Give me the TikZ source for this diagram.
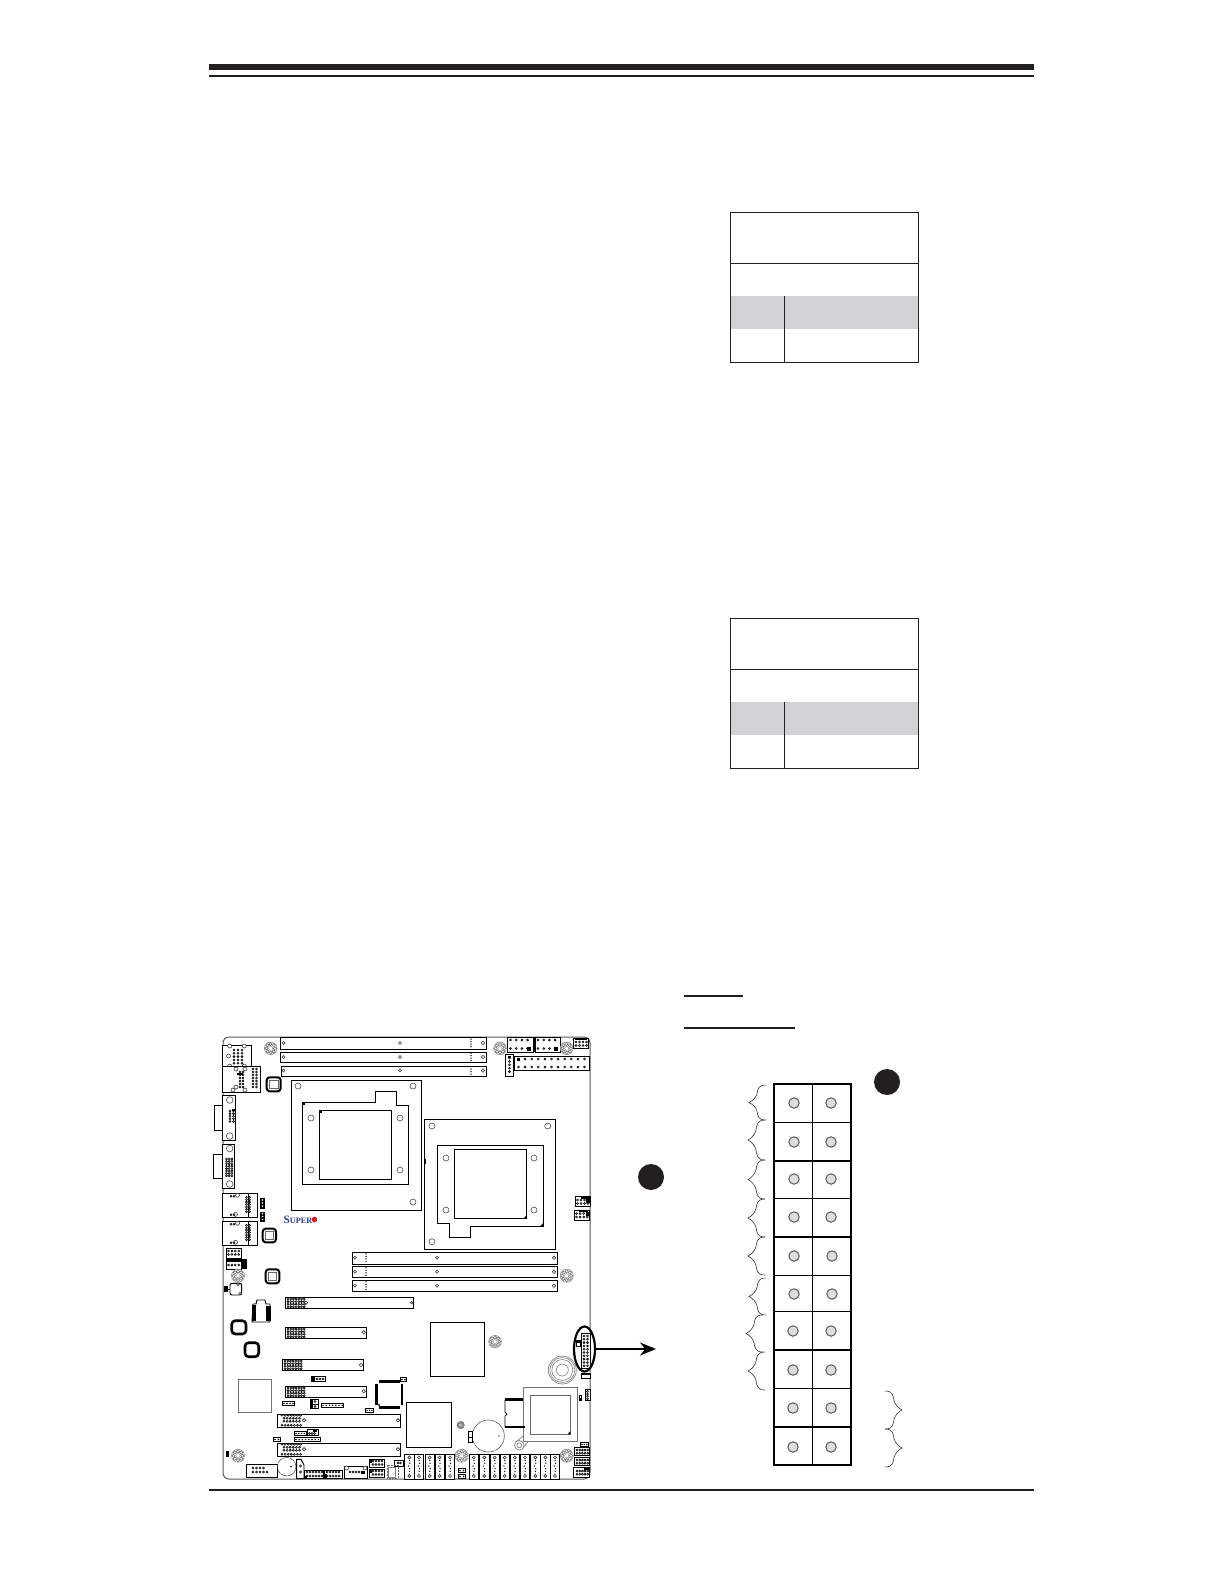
\documentclass[tikz,border=0pt]{standalone}
\usepackage{fontspec}
\setmainfont{Liberation Serif}
\usetikzlibrary{arrows.meta,shapes.geometric,calc}
\definecolor{barblack}{HTML}{231F20}
\definecolor{headgrey}{HTML}{D1D2D3}
\definecolor{pingrey}{HTML}{DDDDDD}
\definecolor{superblue}{HTML}{2A3A8C}
\definecolor{superred}{HTML}{D8202A}
\tikzset{
  tbl/.style={draw=barblack,line width=0.42pt},
  part/.style={draw=black,line width=0.48pt,fill=white},
  thin part/.style={draw=black,line width=0.38pt,fill=white},
  heavy part/.style={draw=black,line width=0.75pt,fill=white},
  hole/.style={draw=black!80,line width=0.3pt,fill=white},
  bighole/.style={draw=black!70,line width=0.3pt,fill=white},
  pindot/.style={draw=black,line width=0.28pt,fill=white},
  pad/.style={draw=black!65,line width=0.5pt,fill=pingrey},
  gridline/.style={draw=black,line width=0.5pt},
  gridthick/.style={draw=black,line width=1.0pt},
  curly/.style={draw=black!80,line width=0.3pt},
}
% pins: x0 y0 nx ny dx dy
\newcommand{\pinarr}[6]{\foreach \ii in {1,...,#3}{\foreach \jj in {1,...,#4}{\draw[pindot] ({#1+(\ii-1)*#5},{#2+(\jj-1)*#6}) circle[radius=1.0];}}}
\newcommand{\blockpins}[6]{\foreach \ii in {1,...,#3}{\foreach \jj in {1,...,#4}{\fill[black] ({#1+(\ii-1)*#5},{#2+(\jj-1)*#6}) circle[radius=0.8];}}}
\newcommand{\standoff}[3]{\draw[draw=black!45,line width=0.3pt,fill=white] (#1,#2) circle[radius=#3];\foreach \aa in {0,45,...,315}{\draw[draw=black!60,line width=0.25pt,fill=white] ($(#1,#2)+(\aa:{#3*0.68})$) circle[radius={#3*0.25}];}\draw[draw=black!45,line width=0.2pt] (#1,#2) circle[radius={#3*0.32}];}
\newcommand{\chipsq}[4]{\draw[black,line width=1.0pt,rounded corners=1.5pt,fill=white] (#1,#2) rectangle (#3,#4);\draw[black!60,line width=0.35pt] ({#1+2.7},{#2+2.7}) rectangle ({#3-2.7},{#4-2.7});}
\newcommand{\chipplain}[4]{\draw[black,line width=1.3pt,rounded corners=1.8pt,fill=white] (#1,#2) rectangle (#3,#4);}
\newcommand{\leftcurly}[3]{% top bottom tip
  \pgfmathsetmacro{\mm}{(#1+#2)/2}\pgfmathsetmacro{\qa}{(#1+\mm)/2}\pgfmathsetmacro{\qb}{(#2+\mm)/2}\pgfmathsetmacro{\xx}{#3+8}
  \draw[curly] (#3+17,#1) .. controls (\xx+1,#1) and (\xx+1,\qa-5) .. (\xx,\qa) .. controls (\xx-1,\qa+4) and (#3+4,\mm-2) .. (#3,\mm) .. controls (#3+4,\mm+2) and (\xx-1,\qb-4) .. (\xx,\qb) .. controls (\xx+1,\qb+5) and (\xx+1,#2) .. (#3+17,#2);}
\newcommand{\rightcurly}[3]{%
  \pgfmathsetmacro{\mm}{(#1+#2)/2}\pgfmathsetmacro{\qa}{(#1+\mm)/2}\pgfmathsetmacro{\qb}{(#2+\mm)/2}\pgfmathsetmacro{\xx}{#3-8}
  \draw[curly] (#3-17,#1) .. controls (\xx-1,#1) and (\xx-1,\qa-5) .. (\xx,\qa) .. controls (\xx+1,\qa+4) and (#3-4,\mm-2) .. (#3,\mm) .. controls (#3-4,\mm+2) and (\xx+1,\qb-4) .. (\xx,\qb) .. controls (\xx-1,\qb+5) and (\xx-1,#2) .. (#3-17,#2);}
\newcommand{\satabox}[2]{\draw[part] (#1,1454.3) rectangle (#2,1479);
  \pgfmathsetmacro{\cc}{(#1+#2)/2}
  \draw[hole] (\cc,1457.5) circle[radius=1.5];\draw[hole] (\cc,1476) circle[radius=1.5];
  \draw[black,line width=0.5pt,densely dotted] (\cc,1460) .. controls (\cc+3,1463) and (\cc-3,1466) .. (\cc,1468) .. controls (\cc+3,1470) and (\cc-2,1472) .. (\cc,1474);}
\begin{document}
\begin{tikzpicture}[x=0.5pt,y=-0.5pt]
\useasboundingbox (0,0) rectangle (1224,1584);
\fill[white] (0,0) rectangle (1224,1584);
% page rules
\fill[barblack] (209,64) rectangle (1034,70);
\fill[barblack] (209,75) rectangle (1034,77);
\fill[barblack] (209,1488.5) rectangle (1034,1491);
% tables
\foreach \dy in {0,406}{
  \fill[headgrey] (730,296+\dy) rectangle (918,329+\dy);
  \draw[tbl] (730,212+\dy) rectangle (918,362+\dy);
  \draw[tbl] (730,263+\dy) -- (918,263+\dy);
  \draw[tbl] (784,296+\dy) -- (784,362+\dy);
}
% underlines
\draw[barblack,line width=0.9pt] (684,996) -- (743,996);
\draw[barblack,line width=0.9pt] (684,1028) -- (795,1028);
% callouts
\fill[barblack] (887,1082) circle[radius=13];
\fill[barblack] (651,1177) circle[radius=13];
% pin header
\foreach \y in {1122,1198.6,1275,1311,1388}{\draw[gridline] (774,\y) -- (851,\y);}
\foreach \y in {1161,1237,1350,1427}{\draw[gridthick] (774,\y) -- (851,\y);}
\draw[gridline] (812,1084) -- (812,1465);
\draw[gridthick] (774,1084) rectangle (851,1465);
\foreach \y/\xa/\xb in {1103/794/831,1142/794/831,1179/794/831,1217/794/831,1256/794/832,1294/794/832,1331/793/831,1370/793/831,1408/793/831,1447/793/831}{
  \draw[pad] (\xa,\y) circle[radius=5.2];
  \draw[pad] (\xb,\y) circle[radius=5.2];
}
\leftcurly{1085}{1120}{749}
\leftcurly{1120}{1160}{748}
\leftcurly{1160}{1199}{748}
\leftcurly{1199}{1237}{748}
\leftcurly{1237}{1275}{748}
\leftcurly{1278}{1315}{749}
\leftcurly{1315}{1352}{746}
\leftcurly{1352}{1390}{748}
\rightcurly{1391}{1429}{902}
\rightcurly{1429}{1467}{902}
% board outline
\draw[black!65,line width=0.5pt,rounded corners=3pt] (223,1037) -- (590,1037) -- (590,1479) -- (223,1479) -- cycle;
% top DIMMs
\draw[part] (280,1037.5) rectangle (486,1049);
\draw[part] (280,1052) rectangle (486,1062);
\draw[part] (281,1066) rectangle (486,1076);
\foreach \y in {1043,1057,1070.5}{
  \draw[hole] (283.5,\y) circle[radius=1.5];
  \draw[hole] (400,\y) circle[radius=1.5];
  \draw[hole] (483,\y) circle[radius=1.7];
  \foreach \d in {-4,-1.5,1,3.5}{\fill[black] (471,\y+\d) circle[radius=0.75];}
}
% CPU socket 1
\draw[part] (291,1080) rectangle (421,1210);
\draw[part] (302.3,1102) -- (375.7,1102) -- (375.7,1091.3) -- (396.3,1091.3) -- (396.3,1105) -- (408.3,1105) -- (408.3,1184) -- (302.3,1184) -- cycle;
\draw[part] (319.3,1110.3) rectangle (391.7,1179.3);
\foreach \x/\y in {298/1086,413/1086,413/1202,311/1118,311/1170,400/1118,400/1170}{\draw[bighole] (\x,\y) circle[radius=3];}
\fill[black] (302,1102) rectangle (305,1104.5);
\fill[black] (319,1110) rectangle (322,1112.5);
% CPU socket 2
\draw[part] (424.3,1119.3) rectangle (555.7,1249.3);
\draw[part] (437.3,1145.3) -- (543.7,1145.3) -- (543.7,1226.3) -- (470.7,1226.3) -- (470.7,1237.3) -- (449.3,1237.3) -- (449.3,1223.7) -- (437.3,1223.7) -- cycle;
\draw[part] (454.3,1149.3) rectangle (526.7,1218.7);
\foreach \x/\y in {432/1126,547.7/1126,432/1241.7,446/1158,534/1158,446/1210,534/1210}{\draw[bighole] (\x,\y) circle[radius=3];}
\fill[black] (523.5,1218.7) -- (526.7,1218.7) -- (526.7,1215) -- cycle;
\fill[black] (540,1226.3) -- (543.7,1226.3) -- (543.7,1222.5) -- cycle;
\fill[black] (424.5,1159) rectangle (426,1163.5);
% top-right connectors
\draw[part] (507.3,1037.3) rectangle (533.3,1052);
\draw[part] (535,1037.3) rectangle (560.3,1052);
\draw[black,line width=0.8pt] (534.3,1037.3) -- (534.3,1052);
\pinarr{510.5}{1040}{4}{2}{5.7}{8.5}
\pinarr{538}{1040}{4}{2}{5.7}{8.5}
\fill[black] (527,1047) rectangle (530.5,1050.5);
\fill[black] (554,1047) rectangle (557.5,1050.5);
\draw[part] (514.7,1056.7) rectangle (589.7,1070.3);
\pinarr{518.5}{1059}{11}{2}{6.6}{8}
\fill[black] (516.5,1057.5) rectangle (519.5,1061);
\draw[part] (505.7,1054.3) rectangle (513.3,1076.3);
\pinarr{509.5}{1058}{1}{5}{0}{3.4}
\fill[black] (508,1055.5) rectangle (511,1058);
\standoff{500}{1048.3}{6.3}
\standoff{566.7}{1048.3}{6.3}
\standoff{270.7}{1048.3}{6.3}
\draw[thin part] (573.7,1038) rectangle (588.3,1048.3);
\pinarr{576}{1042}{4}{2}{3.5}{3.5}
\fill[black] (575,1038.5) rectangle (587,1040);
\draw[thin part] (575.3,1196.7) rectangle (590,1206);
\pinarr{577.5}{1200}{4}{2}{3.5}{3.5}
\fill[black] (581,1197) rectangle (589.5,1199);
\fill[black] (586,1199) rectangle (589.5,1203);
\draw[thin part] (574.3,1210) rectangle (589.7,1220.3);
\pinarr{576.5}{1213.5}{4}{2}{3.6}{3.5}
\fill[black] (579,1210.5) rectangle (588,1212);
\fill[black] (586,1212) rectangle (589,1216);
% left I/O
\draw[part] (222.7,1045.3) rectangle (251.7,1066.7);
\draw[heavy part] (222.7,1045.3) -- (222.7,1066.7);
\pinarr{234}{1050}{3}{5}{4}{3.3}
\foreach \x/\y in {229.7/1046,244.3/1046,228.5/1056,229.7/1066,244.3/1066}{\draw[hole] (\x,\y) circle[radius=2];}
\draw[part] (222.7,1066.7) rectangle (260.7,1092.3);
\draw[heavy part] (222.7,1066.7) -- (222.7,1092.3);
\pinarr{240}{1072}{2}{6}{3}{3}
\pinarr{253}{1069}{2}{7}{3.5}{3}
\foreach \x/\y in {236/1069,245/1069,236/1087,245/1090,233/1090}{\draw[hole] (\x,\y) circle[radius=2];}
\fill[black] (237,1073) rectangle (243,1075);
\chipsq{266.7}{1077.3}{280.7}{1091.3}
\draw[part] (214.3,1105.3) rectangle (223,1130.3);
\draw[part] (222.7,1095.7) rectangle (235.3,1140.3);
\draw[heavy part] (222.7,1095.7) -- (222.7,1140.3);
\draw[bighole] (229.7,1100) circle[radius=3.3];
\draw[bighole] (229.7,1136) circle[radius=3.3];
\pinarr{230}{1111}{2}{5}{3.5}{2.6}
\fill[black] (232,1108.5) rectangle (235,1111);
\draw[part] (213.3,1154.7) rectangle (223,1178.7);
\draw[part] (222.7,1144.3) rectangle (234.3,1188.3);
\draw[heavy part] (222.7,1144.3) -- (222.7,1188.3);
\draw[bighole] (229.7,1148.5) circle[radius=3.3];
\draw[bighole] (229.7,1184) circle[radius=3.3];
\pinarr{226.5}{1159}{3}{8}{2.7}{2.4}
\foreach \y in {1193.3,1221.3}{
  \draw[part] (222.7,\y) rectangle (257.7,\y+24);
  \draw[heavy part] (222.7,\y) -- (222.7,\y+24);
  \draw[thin part] (248.5,\y) -- (248.5,\y+24);
  \pinarr{249.5}{\y+4}{2}{7}{-3}{2.4}
  \foreach \x/\dd in {237.5/2,235.5/21}{\draw[hole] (\x,\y+\dd) circle[radius=2];}
  \pinarr{231}{\y+3}{2}{1}{3}{0}
  \pinarr{231}{\y+21.5}{2}{1}{3}{0}
}
\fill[black] (260.3,1198.3) rectangle (264.7,1208.7);
\fill[black] (260.3,1211.7) rectangle (264.7,1222);
\foreach \y in {1200,1203,1206,1213.5,1216.5,1219.5}{\fill[white] (262.5,\y) circle[radius=0.8];}
\chipsq{262.7}{1228.7}{276}{1242.3}
\node (superlogo) [inner sep=0pt,text=superblue,font=\bfseries\fontsize{5.6pt}{7pt}\selectfont,anchor=west] at (283.3,1219.5) {S\fontsize{4.1pt}{7pt}\selectfont UPER};
\fill[superred] (314.5,1219.5) circle[radius=2.8];
% lower-left connectors
\draw[part] (226.3,1248.3) rectangle (241.7,1258.3);
\pinarr{228.5}{1251}{4}{2}{3.4}{3.4}
\draw[part] (226.3,1259.3) rectangle (241.7,1269.3);
\pinarr{228.5}{1265}{4}{1}{3.4}{0}
\fill[black] (226.5,1259.5) rectangle (241.5,1262);
\fill[black] (242.3,1259.3) rectangle (246.7,1269.3);
\standoff{238}{1275.7}{6.5}
\draw[part,rounded corners=1pt] (230,1283.3) rectangle (241.7,1295);
\fill[black] (224,1286) rectangle (228.3,1291.7);
\draw[black,line width=0.3pt] (228.3,1289) -- (230,1289);
\draw[hole] (238,1284.5) circle[radius=1.2];\draw[hole] (240,1293.5) circle[radius=1.2];
\chipsq{265.7}{1269.3}{279.3}{1283.3}
\draw[part] (253,1304) -- (256,1304) -- (257,1300) -- (265,1300) -- (266,1304) -- (270,1304) -- (270,1322) -- (252,1322) -- cycle;
\fill[black] (251.5,1304.5) rectangle (256,1321);
\fill[black] (266,1305.5) rectangle (270.5,1320.5);
\chipplain{231.7}{1320.7}{246}{1334}
\chipplain{245}{1342.7}{258.7}{1356.7}
% PCI slots
\draw[part] (285.3,1297.3) rectangle (413.3,1308.3);
\pinarr{288}{1299}{7}{4}{2.7}{2.6}
\draw[hole] (306,1302.7) circle[radius=1.7];\draw[hole] (411.7,1302.7) circle[radius=1.3];
\draw[part] (285.3,1327.3) rectangle (366.3,1338.3);
\pinarr{288}{1329}{7}{4}{2.7}{2.6}
\draw[hole] (363.7,1332.3) circle[radius=1.7];
\draw[part] (282.3,1359.3) rectangle (363.3,1370.3);
\pinarr{285}{1361}{7}{4}{2.7}{2.6}
\draw[hole] (361,1365) circle[radius=1.7];
\draw[part] (285.3,1386.3) rectangle (366.3,1397.3);
\pinarr{288}{1388}{7}{4}{2.7}{2.6}
\draw[hole] (363.7,1391.3) circle[radius=1.7];
\foreach \y in {1414.3,1443.3}{
  \draw[part] (277.3,\y) rectangle (400.7,\y+13);
  \pinarr{282}{\y+1}{7}{1}{3.1}{0}
  \pinarr{284}{\y+4}{6}{2}{3.1}{3}
  \pinarr{282}{\y+11}{7}{1}{3.1}{0}
  \draw[hole] (304,\y+6) circle[radius=1.7];
  \draw[hole] (398,\y+6) circle[radius=1.7];
}
% DIMMs lower
\foreach \y/\h in {1252.3/12,1266.3/11,1280.3/11}{
  \draw[part] (352.3,\y) rectangle (557.3,\y+\h);
  \draw[hole] (355,\y+5.5) circle[radius=1.5];
  \draw[hole] (437,\y+5.5) circle[radius=1.5];
  \draw[hole] (554,\y+5.5) circle[radius=1.7];
  \foreach \d in {-4,-1.5,1,3.5}{\fill[black] (366,\y+5.5+\d) circle[radius=0.75];}
}
\standoff{566.7}{1275.7}{6.5}
% chips
\draw[draw=black!55,line width=0.3pt,fill=white] (238.3,1379.3) rectangle (271.7,1412.7);
\draw[part] (430.3,1322.3) rectangle (484.3,1376.7);
\standoff{495}{1341.7}{6.3}
\draw[part] (406.3,1402.3) rectangle (451.7,1447.3);
\standoff{460.7}{1425}{3.7}
% small connectors
\draw[thin part] (311.3,1376.3) rectangle (325.7,1381.7);
\fill[black] (311.3,1376.3) rectangle (315,1381.7);
\pinarr{317}{1379}{3}{1}{3}{0}
\draw[thin part] (282.3,1401.7) rectangle (294.7,1405.3);
\blockpins{284}{1403.5}{4}{1}{3}{0}
\draw[thin part] (310.3,1399.3) rectangle (318.7,1408.7);
\fill[black] (310.3,1399.3) rectangle (313,1408.7);
\fill[black] (310.3,1403.7) rectangle (318.7,1404.7);
\pinarr{315}{1401.5}{1}{2}{0}{5}
\draw[thin part] (321.3,1403.3) rectangle (343.7,1407.3);
\blockpins{323}{1405.3}{7}{1}{3.2}{0}
\draw[thin part] (365.3,1408.3) rectangle (373.7,1412.3);
\blockpins{367}{1410.3}{3}{1}{2.5}{0}
% QFP
\draw[black,line width=1.2pt] (379,1381.5) -- (399.5,1381.5) (379,1407.5) -- (399.5,1407.5) (376.5,1384) -- (376.5,1405) (402,1384) -- (402,1405);
\draw[hole] (379,1405) circle[radius=1];
\draw[thin part] (294.3,1431.7) rectangle (306,1435.3);
\blockpins{296}{1433.5}{4}{1}{2.8}{0}
\draw[thin part] (307.3,1429.3) rectangle (318.7,1435.3);
\pinarr{309.5}{1433.5}{3}{1}{2.5}{0}
\fill[black] (313,1429.5) rectangle (317,1431.5);
\draw[thin part] (294.3,1437.3) rectangle (320.7,1441.7);
\blockpins{296}{1439.5}{8}{1}{3.2}{0}
\draw[thin part] (273.3,1437.3) rectangle (280.7,1441.7);
\blockpins{275}{1439.5}{2}{1}{3.5}{0}
\fill[black] (225.7,1451.3) rectangle (229,1457.3);
\standoff{238}{1455.7}{6.5}
\draw[part] (246.3,1464.7) rectangle (277,1477.7);
\pinarr{253}{1468}{4}{1}{3.5}{0}
\pinarr{253}{1472}{5}{1}{3.5}{0}
% battery left
\draw[black!70,line width=0.3pt,dash pattern=on 1.5pt off 0.3pt] (286.7,1466.7) circle[radius=9.3];
\fill[black] (291,1466.7) circle[radius=0.9];
\draw[part] (296.7,1459.3) -- (301,1459.3) -- (304,1465) -- (304,1478.7) -- (296.7,1478.7) -- cycle;
\draw[hole] (300.5,1466) circle[radius=1.1];\draw[hole] (300.5,1472) circle[radius=1.1];
\fill[black] (304,1473) rectangle (306,1476);
\draw[part] (304.3,1470) rectangle (323.3,1478.7);
\pinarr{307}{1472}{6}{2}{3}{4}
\fill[black] (304.3,1476) rectangle (307,1478.7);
\draw[part] (324,1470) rectangle (342.7,1478.7);
\pinarr{327}{1472}{5}{2}{3}{4}
\fill[black] (324,1474) rectangle (326.5,1478);
\draw[part] (344.3,1466.7) rectangle (367.7,1478.7);
\draw[hole] (346.5,1468) circle[radius=2];\draw[hole] (365,1468) circle[radius=2];
\pinarr{350}{1472}{5}{1}{3}{0}
\fill[black] (361,1471) rectangle (365,1474);
\draw[part] (369,1459.3) rectangle (384.3,1467.3);
\pinarr{373}{1461}{4}{2}{3}{3.5}
\fill[black] (369,1459.3) rectangle (372,1463);
\draw[part] (369,1469.3) rectangle (384.3,1477.3);
\pinarr{373}{1471}{4}{2}{3}{3.5}
\fill[black] (369,1469.3) rectangle (372,1473);
\draw[part] (394.3,1460.7) rectangle (403.5,1466.7);
\pinarr{398}{1463}{2}{1}{2.5}{0}
\draw[black!60,line width=0.3pt,dash pattern=on 1pt off 0.5pt] (387,1465) rectangle (398,1478);
\draw[black!50,line width=0.3pt,fill=white] (388.5,1467) rectangle (395.5,1477);
% slot ends near x=400
\draw[part] (400,1377.7) rectangle (406.7,1381.3);
\blockpins{402}{1379.5}{2}{1}{3}{0}
% battery right
\draw[black!70,line width=0.3pt,dash pattern=on 2pt off 0.3pt] (488.3,1436) circle[radius=16];
\fill[black!60] (499,1436) circle[radius=0.8];
\draw[part] (468.5,1431.7) rectangle (472.7,1442.3);
\draw[black,line width=0.3pt] (468.5,1437) -- (472.7,1437);
% heatsink
\draw[black!55,line width=0.3pt] (515.5,1442) -- (523.3,1436) (522,1449) -- (528,1441.7);
\draw[black!55,line width=0.3pt,fill=white] (519.3,1445.3) circle[radius=4.8];
\draw[black!55,line width=0.3pt] (519.3,1445.3) circle[radius=2.5];
\draw[draw=black!55,line width=0.3pt] (523.3,1387.7) rectangle (577.3,1441.7);
\draw[black!60,line width=0.35pt] (530.3,1395) rectangle (570.3,1434.3);
\fill[black] (567.5,1434.3) -- (570.3,1434.3) -- (570.3,1431.3) -- cycle;
\draw[black,line width=0.35pt] (505,1399.7) -- (505,1412) -- (507,1414) -- (505,1416) -- (505,1427);
\draw[black,line width=1.3pt] (505,1399.7) -- (522.7,1399.7);
\draw[black,line width=1.3pt] (505,1427) -- (525,1427);
% bearing circle
\draw[black!50,line width=0.35pt,fill=white] (562.3,1370) circle[radius=14];
\draw[black!50,line width=0.3pt] (562.3,1370) circle[radius=12.5];
\draw[black!50,line width=0.3pt] (562.3,1370) circle[radius=10.5];
\draw[black!50,line width=0.3pt,fill=white] (562.3,1370) circle[radius=6];
% front header + small
\draw[part] (581.7,1333.3) rectangle (590,1368.3);
\pinarr{584}{1336}{2}{10}{3.5}{3.3}
\draw[thin part] (576.7,1340) rectangle (580,1346.7);
\fill[black] (577,1340) rectangle (580,1343);
\draw[thin part] (581.7,1373.3) rectangle (590,1378.3);
\fill[black] (581.7,1373.3) rectangle (590,1375);
\draw[thin part] (585,1389.3) rectangle (590,1400);
\pinarr{587.5}{1391.5}{1}{4}{0}{2.4}
\draw[thin part] (579,1395) rectangle (581.7,1400.7);
\fill[black] (579,1398) rectangle (581.7,1400.7);
% SATA row
\foreach \a/\b in {404.7/414,414.3/423.7,425/434.3,435/444.3,445.7/454.3,469.3/478.3,479.7/489,490/499.3,500/509.3,510.3/519.3,520.3/529.7,530.7/540,540.7/550,550.7/559.3}{\satabox{\a}{\b}}
\draw[thin part] (458.3,1468.3) rectangle (465.7,1472.7);
\blockpins{460}{1470.5}{2}{1}{3.5}{0}
\draw[thin part] (458.3,1474.3) rectangle (465.7,1478.7);
\blockpins{460}{1476.5}{2}{1}{3.5}{0}
\standoff{461.7}{1455.7}{6.5}
\standoff{566.7}{1455.7}{6.5}
\draw[thin part] (580,1442.3) rectangle (588.7,1446.7);
\blockpins{582}{1444.5}{3}{1}{2.4}{0}
\draw[thin part] (574.3,1447.7) rectangle (589.7,1455.3);
\pinarr{577}{1450}{5}{2}{2.7}{3.2}
\draw[thin part] (574.3,1457.3) rectangle (589.7,1465.7);
\pinarr{577}{1460}{5}{2}{2.7}{3.2}
\draw[thin part] (573.3,1467.7) rectangle (589.3,1477.7);
\pinarr{577}{1471}{5}{2}{2.7}{3.2}
\fill[black] (584,1468.2) rectangle (588.8,1470);
% oval and arrow
\node (oval) [ellipse,draw=black,line width=1.1pt,minimum width=10.5pt,minimum height=22.5pt,inner sep=0pt] at (584.5,1349) {};
\coordinate (arrowtip) at (656,1349);
\draw[black,line width=1pt,-{Stealth[length=8pt,width=6.5pt]}] (oval.east) -- (arrowtip);
\end{tikzpicture}
\end{document}
